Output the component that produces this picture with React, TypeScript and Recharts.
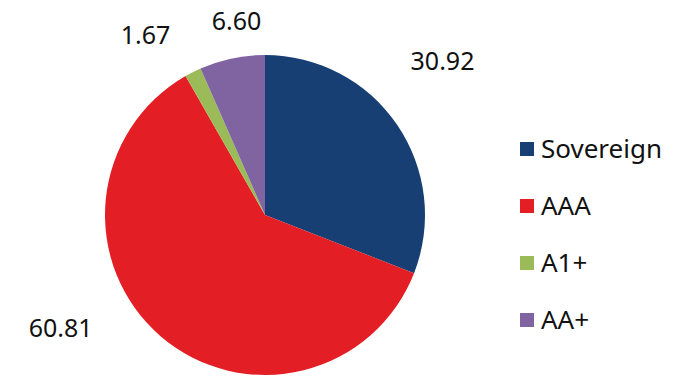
import React from 'react';
import { PieChart, Pie, Cell, Legend } from 'recharts';

const categories = ['Sovereign', 'AAA', 'A1+', 'AA+'];
const values = [30.92, 60.81, 1.67, 6.6];
const labels = ['30.92', '60.81', '1.67', '6.60'];
const colors = ['#173F73', '#E31E24', '#9BBB59', '#8064A2'];
const labelNudge = [
  { dx: 19, dy: -47 },
  { dx: -79, dy: -33 },
  { dx: -33, dy: -10 },
  { dx: 11, dy: -7 },
];

const data = categories.map((name, i) => ({ name, value: values[i] }));
const FONT = '"Noto Sans", "Open Sans", sans-serif';
const RAD = Math.PI / 180;

const renderLabel = (props: any) => {
  const { cx, cy, midAngle, outerRadius, index } = props;
  const r = outerRadius * 1.2;
  const x = cx + r * Math.cos(-midAngle * RAD) + labelNudge[index].dx;
  const y = cy + r * Math.sin(-midAngle * RAD) + labelNudge[index].dy;
  return (
    <text x={x} y={y} textAnchor="middle" dominantBaseline="central" fill="#111" fontSize={25} fontFamily={FONT}>
      {labels[index]}
    </text>
  );
};

const renderLegend = () => (
  <div style={{ fontFamily: FONT, fontSize: 26, color: '#111' }}>
    {categories.map((c, i) => (
      <div key={c} style={{ height: 57, lineHeight: '57px', display: 'flex', alignItems: 'center' }}>
        <span style={{ width: 14, height: 14, background: colors[i], display: 'inline-block', marginRight: 7 }} />
        <span>{c}</span>
      </div>
    ))}
  </div>
);

export default function App() {
  return (
    <div style={{ position: 'absolute', left: 0, top: 0, width: 677, height: 389, background: '#fff' }}>
      <PieChart width={677} height={389} margin={{ top: 0, right: 0, bottom: 0, left: 0 }}>
        <Pie
          data={data}
          dataKey="value"
          nameKey="name"
          cx={265}
          cy={215}
          outerRadius={160}
          startAngle={90}
          endAngle={-270}
          stroke="none"
          label={renderLabel}
          labelLine={false}
          isAnimationActive={false}
        >
          {data.map((d, i) => (
            <Cell key={d.name} fill={colors[i]} />
          ))}
        </Pie>
        <Legend content={renderLegend} wrapperStyle={{ left: 520, top: 120, width: 157 }} />
      </PieChart>
    </div>
  );
}
